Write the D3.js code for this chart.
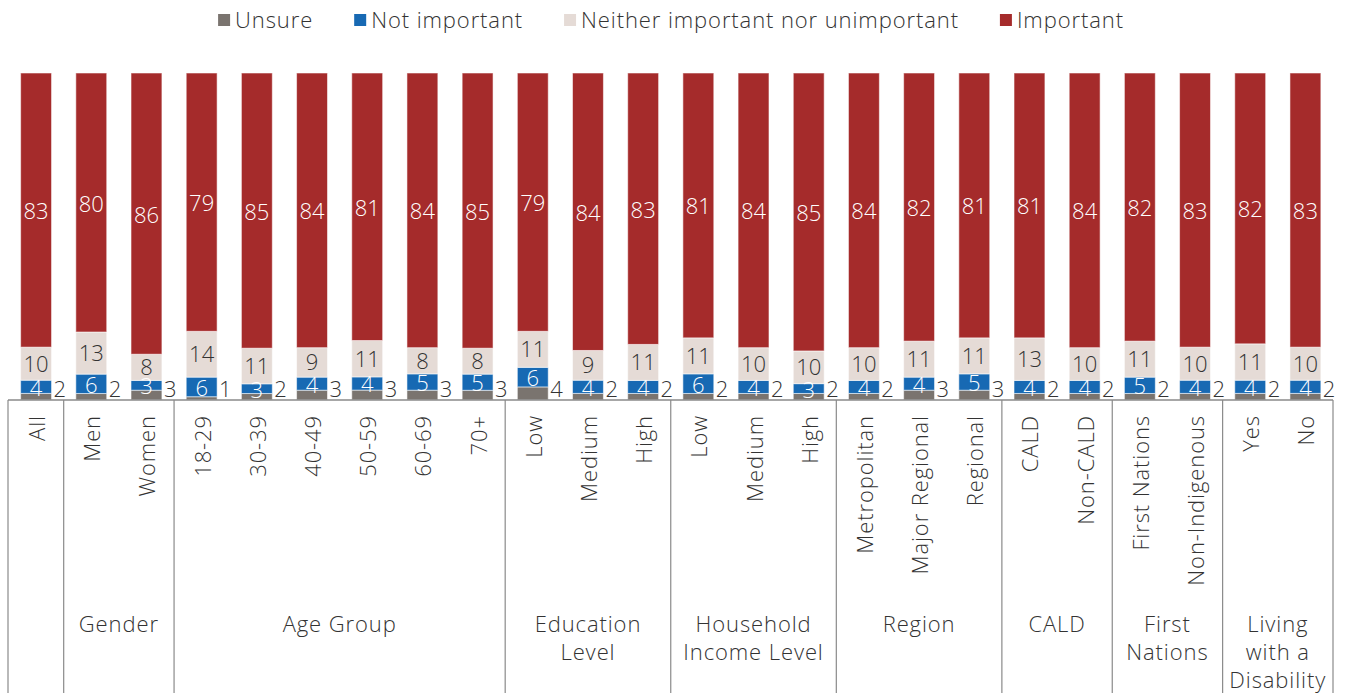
<!DOCTYPE html>
<html>
<head>
<meta charset="utf-8">
<script src="https://cdn.jsdelivr.net/npm/d3@7"></script>
<style>
  html, body { margin: 0; padding: 0; background: #fff; }
  svg { display: block; font-family: "Open Sans", Lato, sans-serif; font-weight: 300; }
</style>
</head>
<body>
<svg id="chart" width="1346" height="693"></svg>
<script>
// ---- Data ----
const categories = ["All","Men","Women","18-29","30-39","40-49","50-59","60-69","70+",
  "Low","Medium","High","Low","Medium","High",
  "Metropolitan","Major Regional","Regional","CALD","Non-CALD",
  "First Nations","Non-Indigenous","Yes","No"];
const groupNames = ["", "Gender", "Age Group", "Education Level", "Household Income Level",
  "Region", "CALD", "First Nations", "Living with a Disability"];
const groupSizes = [1, 2, 6, 3, 3, 3, 2, 2, 2];
const groupLabelLines = [[], ["Gender"], ["Age Group"], ["Education", "Level"],
  ["Household", "Income Level"], ["Region"], ["CALD"], ["First", "Nations"],
  ["Living", "with a", "Disability"]];
const seriesNames = ["Unsure", "Not important", "Neither important nor unimportant", "Important"];
const unsure       = [2,2,3,1,2,3,3,3,3,4,2,2,2,2,2,2,3,3,2,2,2,2,2,2];
const notImportant = [4,6,3,6,3,4,4,5,5,6,4,4,6,4,3,4,4,5,4,4,5,4,4,4];
const neither      = [10,13,8,14,11,9,11,8,8,11,9,11,11,10,10,10,11,11,13,10,11,10,11,10];
const important    = [83,80,86,79,85,84,81,84,85,79,84,83,81,84,85,84,82,81,81,84,82,83,82,83];
const colors = ["#7a746f", "#1769b3", "#e5dbd6", "#a52b2b"];
const labelColors = ["#333", "#fff", "#333", "#fff"];

// ---- Layout ----
const W = 1346, H = 693;
const plotLeft = 8.5, plotRight = 1333, plotTop = 73, axisY = 400;
const svg = d3.select("#chart");

const rows = categories.map((c, i) => ({
  idx: i, cat: c,
  "Unsure": unsure[i], "Not important": notImportant[i],
  "Neither important nor unimportant": neither[i], "Important": important[i]
}));

const x = d3.scaleBand().domain(d3.range(categories.length)).range([plotLeft, plotRight]).paddingInner(0.44).paddingOuter(0.22);
const y = d3.scaleLinear().domain([0, 1]).range([axisY, plotTop]);
const color = d3.scaleOrdinal().domain(seriesNames).range(colors);

const stack = d3.stack().keys(seriesNames).offset(d3.stackOffsetExpand);
const stacked = stack(rows);

const fontSize = 22;
const ls = "0.9px";

// bars
const layers = svg.append("g").selectAll("g").data(stacked).join("g")
  .attr("fill", d => color(d.key));
layers.selectAll("rect").data(d => d).join("rect")
  .attr("x", d => x(d.data.idx))
  .attr("width", x.bandwidth())
  .attr("y", d => y(d[1]))
  .attr("height", d => y(d[0]) - y(d[1]))
  .attr("stroke", "rgba(255,255,255,0.55)")
  .attr("stroke-width", 1);

// value labels
stacked.forEach((layer, si) => {
  const key = layer.key;
  const g = svg.append("g").attr("font-size", fontSize).attr("fill", labelColors[si]);
  g.selectAll("text").data(layer).join("text")
    .attr("x", d => si === 0 ? x(d.data.idx) + x.bandwidth() + 2 : x(d.data.idx) + x.bandwidth() / 2)
    .attr("y", d => si === 0 ? axisY - 3 : (y(d[0]) + y(d[1])) / 2 + (si === 2 ? -1 : 0))
    .attr("text-anchor", si === 0 ? "start" : "middle")
    .attr("dominant-baseline", si === 0 ? "alphabetic" : "central")
    .text(d => d.data[key]);
});

// axis line
const step = x.step();
const axisStart = x(0) - x.paddingOuter() * step - 0.5;
const axisEnd = x(categories.length - 1) + x.bandwidth() + x.paddingOuter() * step;
svg.append("line")
  .attr("x1", axisStart).attr("x2", axisEnd)
  .attr("y1", axisY).attr("y2", axisY)
  .attr("stroke", "#8a8a8a").attr("stroke-width", 1.5);

// category labels (rotated)
svg.append("g").attr("font-size", fontSize).attr("fill", "#333").attr("letter-spacing", ls)
  .selectAll("text").data(categories).join("text")
  .attr("transform", (d, i) => `translate(${x(i) + x.bandwidth() / 2},${axisY + 15}) rotate(-90)`)
  .attr("text-anchor", "end")
  .attr("dominant-baseline", "central")
  .text(d => d);

// group separators and labels
let acc = 0;
const bounds = [0];
groupSizes.forEach(s => { acc += s; bounds.push(acc); });
const boundX = i => {
  if (i === 0) return axisStart;
  if (i === categories.length) return axisEnd;
  return (x(i - 1) + x.bandwidth() + x(i)) / 2;
};
svg.append("g").selectAll("line").data(bounds).join("line")
  .attr("x1", d => boundX(d)).attr("x2", d => boundX(d))
  .attr("y1", axisY).attr("y2", H)
  .attr("stroke", "#8a8a8a").attr("stroke-width", 1.2);

const gl = svg.append("g").attr("font-size", fontSize).attr("fill", "#333").attr("text-anchor", "middle").attr("letter-spacing", ls);
groupLabelLines.forEach((lines, gi) => {
  const cx = (boundX(bounds[gi]) + boundX(bounds[gi + 1])) / 2;
  lines.forEach((ln, li) => {
    gl.append("text").attr("x", cx).attr("y", 632 + li * 28).text(ln);
  });
});

// legend
const legend = svg.append("g").attr("font-size", fontSize).attr("fill", "#333").attr("letter-spacing", ls);
const items = legend.selectAll("g").data(seriesNames).join("g");
items.append("rect").attr("width", 12).attr("height", 12).attr("y", 14).attr("fill", d => color(d));
items.append("text").attr("x", 17).attr("y", 28).text(d => d);
let lx = 0;
items.each(function () {
  const g = d3.select(this);
  g.attr("transform", `translate(${lx},0)`);
  const w = g.select("text").node().getComputedTextLength();
  lx += 17 + w + 41;
});
lx -= 41;
legend.attr("transform", `translate(${(W - lx) / 2 - 2},0)`);
</script>
</body>
</html>
